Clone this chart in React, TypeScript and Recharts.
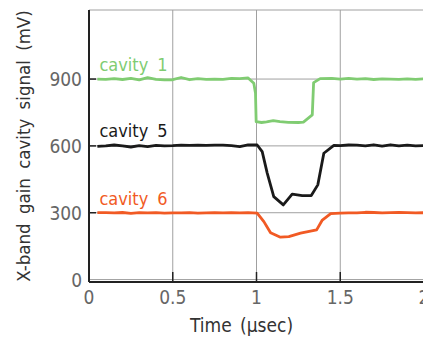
import React from 'react';
import { LineChart, Line, XAxis, YAxis, CartesianGrid, ReferenceDot, Label } from 'recharts';

const cavity1Time = [0.05, 0.1, 0.15, 0.2, 0.25, 0.3, 0.35, 0.4, 0.45, 0.5, 0.55, 0.6, 0.65, 0.7, 0.75, 0.8, 0.85, 0.9, 0.95, 0.984, 0.994, 0.998, 1.03, 1.06, 1.1, 1.14, 1.19, 1.25, 1.28, 1.333, 1.341, 1.38, 1.45, 1.5, 1.55, 1.6, 1.65, 1.7, 1.75, 1.8, 1.85, 1.9, 1.95, 2.0];
const cavity1Signal = [900, 899, 902, 898, 903, 896, 906, 899, 896, 897, 907, 897, 902, 899, 900, 899, 903, 902, 905, 881, 836, 709, 705, 708, 713, 709, 706, 705, 707, 739, 884, 902, 903, 900, 903, 900, 902, 898, 901, 900, 899, 901, 899, 901];

const cavity5Time = [0.05, 0.1, 0.15, 0.2, 0.25, 0.3, 0.35, 0.4, 0.45, 0.5, 0.55, 0.6, 0.65, 0.7, 0.75, 0.8, 0.85, 0.9, 0.95, 1.004, 1.034, 1.064, 1.103, 1.16, 1.213, 1.273, 1.327, 1.366, 1.402, 1.462, 1.5, 1.55, 1.6, 1.65, 1.7, 1.75, 1.8, 1.85, 1.9, 1.95, 2.0];
const cavity5Signal = [598, 600, 604, 600, 595, 601, 597, 602, 600, 601, 603, 602, 603, 602, 603, 603, 601, 597, 604, 604, 574, 478, 372, 335, 383, 377, 377, 425, 567, 602, 601, 604, 603, 600, 605, 599, 605, 600, 603, 600, 601];

const cavity6Time = [0.05, 0.1, 0.15, 0.2, 0.25, 0.3, 0.35, 0.4, 0.45, 0.5, 0.55, 0.6, 0.65, 0.7, 0.75, 0.8, 0.85, 0.9, 0.95, 1.004, 1.044, 1.084, 1.143, 1.193, 1.263, 1.359, 1.393, 1.443, 1.5, 1.55, 1.6, 1.65, 1.7, 1.75, 1.8, 1.85, 1.9, 1.95, 2.0];
const cavity6Signal = [300, 300, 299, 301, 297, 300, 299, 300, 298, 299, 299, 300, 298, 299, 300, 299, 300, 299, 300, 298, 260, 210, 190, 193, 208, 223, 267, 296, 298, 299, 299, 302, 301, 299, 300, 301, 300, 299, 300];

const seriesNames = ['cavity 1', 'cavity 5', 'cavity 6'];
const seriesColors = ['#80cc72', '#1a1a1a', '#f15a24'];
const labelTime = [0.062, 0.062, 0.062];
const labelSignal = [935, 640, 335];

const xTicks = [0, 0.5, 1, 1.5, 2];
const xTickLabels = ['0', '0.5', '1', '1.5', '2'];
const yTicks = [0, 300, 600, 900];
const xTitle = 'Time (\u03bcsec)';
const yTitle = 'X-band gain cavity signal (mV)';

const FONT = '"Liberation Sans Narrow", "DejaVu Sans Condensed", "Liberation Sans", sans-serif';
const AXIS = '#222';

const toSeries = (t: number[], v: number[]) => t.map((time, i) => ({ t: time, v: v[i] }));
const series = [
  toSeries(cavity1Time, cavity1Signal),
  toSeries(cavity5Time, cavity5Signal),
  toSeries(cavity6Time, cavity6Signal),
];

const BottomTick = (props: any) => {
  const { x, y, payload } = props;
  const v = payload.value;
  const idx = xTicks.indexOf(v);
  const mark = v > 0 && v < 2;
  return (
    <g>
      {mark && <line x1={x} x2={x} y1={y} y2={y - 10} stroke={AXIS} strokeWidth={1.5} />}
      <text x={x} y={y + 22} textAnchor="middle" fill="#666" fontSize={19} fontFamily={FONT}>
        {xTickLabels[idx]}
      </text>
    </g>
  );
};

const TopTick = (props: any) => {
  const { x, y, payload } = props;
  const v = payload.value;
  if (!(v > 0 && v < 2)) return <g />;
  return <line x1={x} x2={x} y1={y} y2={y + 8} stroke={AXIS} strokeWidth={1.5} />;
};

const LeftTick = (props: any) => {
  const { x, y, payload } = props;
  const v = payload.value;
  return (
    <g>
      {v > 0 && <line x1={x} x2={x + 7} y1={y} y2={y} stroke={AXIS} strokeWidth={1.5} />}
      <text x={x - 7} y={y + 7} textAnchor="end" fill="#666" fontSize={19} fontFamily={FONT}>
        {String(v)}
      </text>
    </g>
  );
};

const YTitle = (props: any) => {
  const vb = props.viewBox;
  const cx = vb.x + 23;
  const cy = vb.y + vb.height / 2;
  return (
    <text x={cx} y={cy} transform={`rotate(-90 ${cx} ${cy})`} textAnchor="middle" dominantBaseline="central"
      fill="#333" fontSize={18.5} fontFamily={FONT} wordSpacing={4}>
      {yTitle}
    </text>
  );
};

const XTitle = (props: any) => {
  const vb = props.viewBox;
  return (
    <text x={vb.x + vb.width / 2 - 15} y={vb.y + 50} textAnchor="middle" fill="#333" fontSize={19}
      fontFamily={FONT} wordSpacing={3}>
      {xTitle}
    </text>
  );
};

const makeSeriesLabel = (i: number) => (props: any) => {
  const vb = props.viewBox;
  return (
    <text x={vb.x} y={vb.y} fill={seriesColors[i]} fontSize={18} fontFamily={FONT} wordSpacing={4}>
      {seriesNames[i]}
    </text>
  );
};

export default function App() {
  return (
    <div style={{ position: 'absolute', left: 0, top: 0, width: 423, height: 343, overflow: 'hidden', background: '#fff' }}>
      <LineChart width={426} height={343} margin={{ top: 10, right: 2, bottom: 0, left: 0 }}>
        <CartesianGrid stroke="#a0a0a0" strokeWidth={1} />
        <XAxis xAxisId={0} dataKey="t" type="number" domain={[0, 2]} ticks={xTicks} interval={0}
          height={61} tickLine={false} tickSize={0} tickMargin={0} tick={<BottomTick />}
          axisLine={{ stroke: AXIS, strokeWidth: 2 }} allowDataOverflow>
          <Label content={<XTitle />} />
        </XAxis>
        <XAxis xAxisId="top" orientation="top" type="number" domain={[0, 2]} ticks={xTicks} interval={0}
          height={0} tickLine={false} tickSize={0} tickMargin={0} tick={<TopTick />}
          axisLine={{ stroke: AXIS, strokeWidth: 2 }} />
        <YAxis type="number" domain={[-11, 1210]} ticks={yTicks} interval={0} width={89}
          tickLine={false} tickSize={0} tickMargin={0} tick={<LeftTick />}
          axisLine={{ stroke: AXIS, strokeWidth: 2 }} allowDataOverflow>
          <Label content={<YTitle />} />
        </YAxis>
        {series.map((d, i) => (
          <Line key={seriesNames[i]} data={d} dataKey="v" type="linear" stroke={seriesColors[i]}
            strokeWidth={2.8} dot={false} isAnimationActive={false} strokeLinejoin="round" />
        ))}
        {seriesNames.map((n, i) => (
          <ReferenceDot key={n} x={labelTime[i]} y={labelSignal[i]} r={0} fill="none" stroke="none"
            label={makeSeriesLabel(i)} />
        ))}
      </LineChart>
    </div>
  );
}
